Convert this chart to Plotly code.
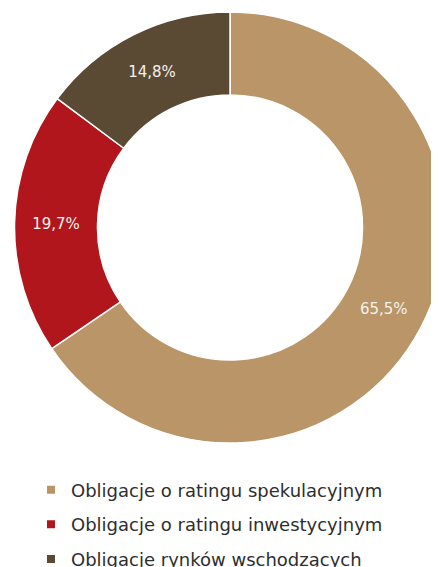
import plotly.graph_objects as go

categories = ["Obligacje o ratingu spekulacyjnym",
              "Obligacje o ratingu inwestycyjnym",
              "Obligacje rynków wschodzących"]
values = [65.5, 19.7, 14.8]
value_labels = ["65,5%", "19,7%", "14,8%"]
colors = ["#B99568", "#B0161C", "#5A4A34"]

W, H = 439, 620  # taller than the window so the legend never pushes margins
OFF = 8  # page body margin

FONT = "DejaVu Sans"

fig = go.Figure()
fig.add_trace(go.Pie(
    labels=categories,
    values=values,
    text=value_labels,
    textinfo="text",
    textposition="inside",
    insidetextorientation="horizontal",
    textfont=dict(family=FONT, size=15, color="#F4F1EC"),
    hole=0.615,
    sort=False,
    direction="clockwise",
    rotation=0,
    marker=dict(colors=colors, line=dict(color="white", width=1.5)),
    domain=dict(x=[(230 - OFF - 215.5) / W, (230 - OFF + 215.5) / W],
                y=[(H - (443 - OFF)) / H, (H - (12 - OFF)) / H]),
    hoverinfo="label+text",
    showlegend=False,
))

# legend entries (one group each so the gap between them can be set)
for name, col in zip(categories, colors):
    fig.add_trace(go.Scatter(
        x=[None], y=[None], mode="markers", name=name,
        legendgroup=name,
        marker=dict(symbol="square", size=8, color=col),
    ))

fig.update_layout(
    width=W, height=H,
    margin=dict(l=0, r=0, t=0, b=0),
    paper_bgcolor="white",
    plot_bgcolor="rgba(0,0,0,0)",
    xaxis=dict(visible=False),
    yaxis=dict(visible=False),
    showlegend=True,
    legend=dict(
        x=(71 - 40 - OFF) / W, xanchor="left",
        y=(H - (471.5 - OFF)) / H, yanchor="top",
        font=dict(family=FONT, size=18, color="#2E2E2E"),
        bgcolor="rgba(0,0,0,0)",
        tracegroupgap=8.2,
        traceorder="grouped",
    ),
)

fig.write_html("out.html")
